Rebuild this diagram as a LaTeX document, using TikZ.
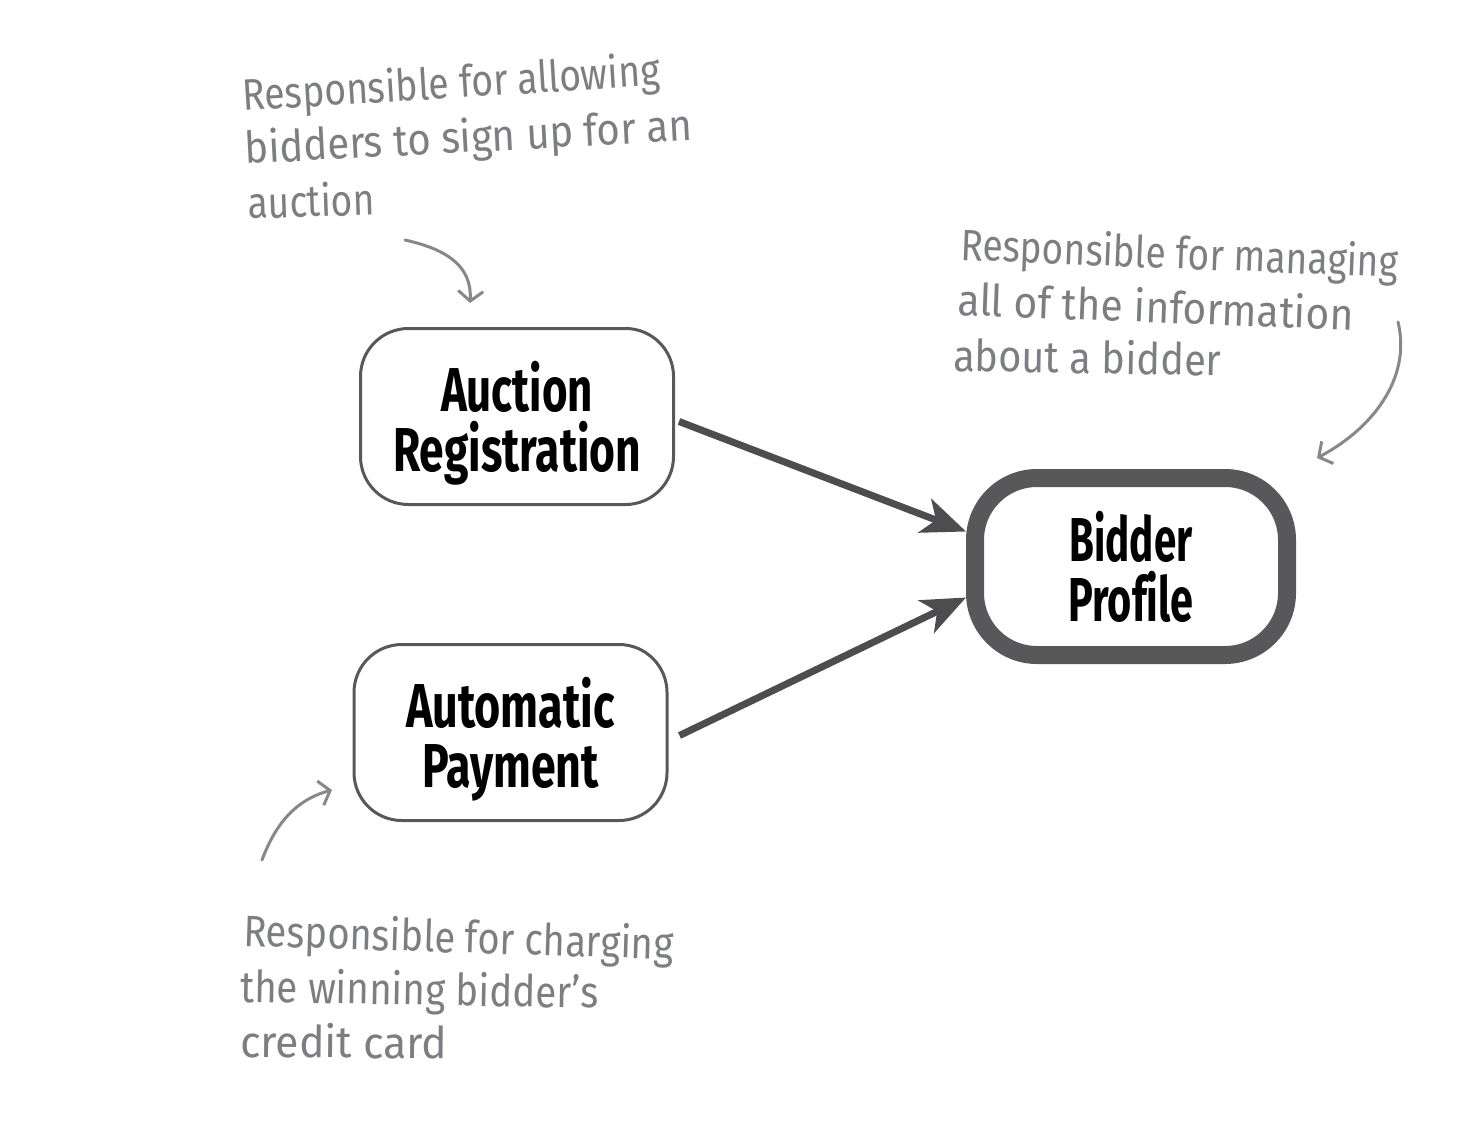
\documentclass[tikz,border=0pt]{standalone}
\usepackage{fontspec}
\setmainfont{Fira Sans}
\usetikzlibrary{arrows.meta}
\definecolor{boxline}{HTML}{58585A}
\definecolor{arrowc}{HTML}{4D4D4F}
\definecolor{notec}{HTML}{7D7E82}
\definecolor{curvec}{HTML}{87888B}
\newcommand{\hwline}[2]{\resizebox{#1pt}{\height}{#2}}
\begin{document}
\begin{tikzpicture}[x=1pt,y=-1pt,
  boxnode/.style={draw=boxline, line width=3pt, rounded corners=48pt, fill=white,
    minimum width=313pt, minimum height=176pt, inner sep=0pt, text depth=0pt,
    font=\fontsize{62}{60}\selectfont\bfseries, align=center},
  notetext/.style={anchor=base west, inner sep=0pt, text=notec,
    font=\fontsize{44}{44}\selectfont},
  flow/.style={draw=arrowc, line width=7pt, -{Stealth[length=44pt,width=36pt,inset=12pt]}},
  pointer/.style={draw=curvec, line width=3pt, line cap=round,
    -{Straight Barb[length=10pt,width=25pt,line width=3pt]}}]
\useasboundingbox (0,0) rectangle (1482,1146);
\fill[white] (0,0) rectangle (1482,1146);

% boxes
\node[boxnode] (ar) at (517,416.5)
  {\hwline{152}{Auction}\\\hwline{248}{Registration}};
\node[boxnode] (ap) at (510.5,732.5)
  {\hwline{209}{Automatic}\\\hwline{177}{Payment}};
\node[boxnode, line width=18pt, rounded corners=62pt, minimum width=312pt, minimum height=177pt] (bp) at (1131,566.5)
  {\hwline{123}{Bidder}\\\hwline{125}{Prof\kern0pt ile}};

% main arrows
\draw[flow] ([xshift=4pt,yshift=-5pt]ar.east) -- ([yshift=35pt]bp.west);
\draw[flow] ([xshift=11pt,yshift=-3pt]ap.east) -- ([yshift=-31pt]bp.west);

% note 1
\node[notetext, rotate=3.5] (n1a) at (243,111) {\hwline{418}{Responsible for allowing}};
\node[notetext, rotate=3] (n1b) at (245,164) {\hwline{448}{bidders to sign up for an}};
\node[notetext, rotate=2] (n1c) at (248,219) {\hwline{127}{auction}};

% note 2
\node[notetext, rotate=-2.3] (n2a) at (960,260) {\hwline{438}{Responsible for managing}};
\node[notetext, rotate=-2.2] (n2b) at (957,315) {\hwline{396}{all of the information}};
\node[notetext, rotate=-1] (n2c) at (953,371) {\hwline{268}{about a bidder}};

% note 3
\node[notetext, rotate=-1.8] (n3a) at (243,946) {\hwline{430}{Responsible for charging}};
\node[notetext, rotate=-1] (n3b) at (240,1002) {\hwline{358}{the winning bidder’s}};
\node[notetext, rotate=-0.5] (n3c) at (240,1057) {\hwline{207}{credit card}};

% pointers
\coordinate (p1s) at (405,240);
\coordinate (p1e) at (470,303);
\coordinate (p2s) at (1398,322);
\coordinate (p2e) at (1317,458);
\coordinate (p3s) at (262,860);
\coordinate (p3e) at (332,790);
\draw[pointer] (p1s) .. controls (450,250) and (472,268) .. (p1e);
\draw[pointer] (p2s) .. controls (1412,380) and (1370,430) .. (p2e);
\draw[pointer] (p3s) .. controls (275,825) and (295,800) .. (p3e);
\end{tikzpicture}
\end{document}
